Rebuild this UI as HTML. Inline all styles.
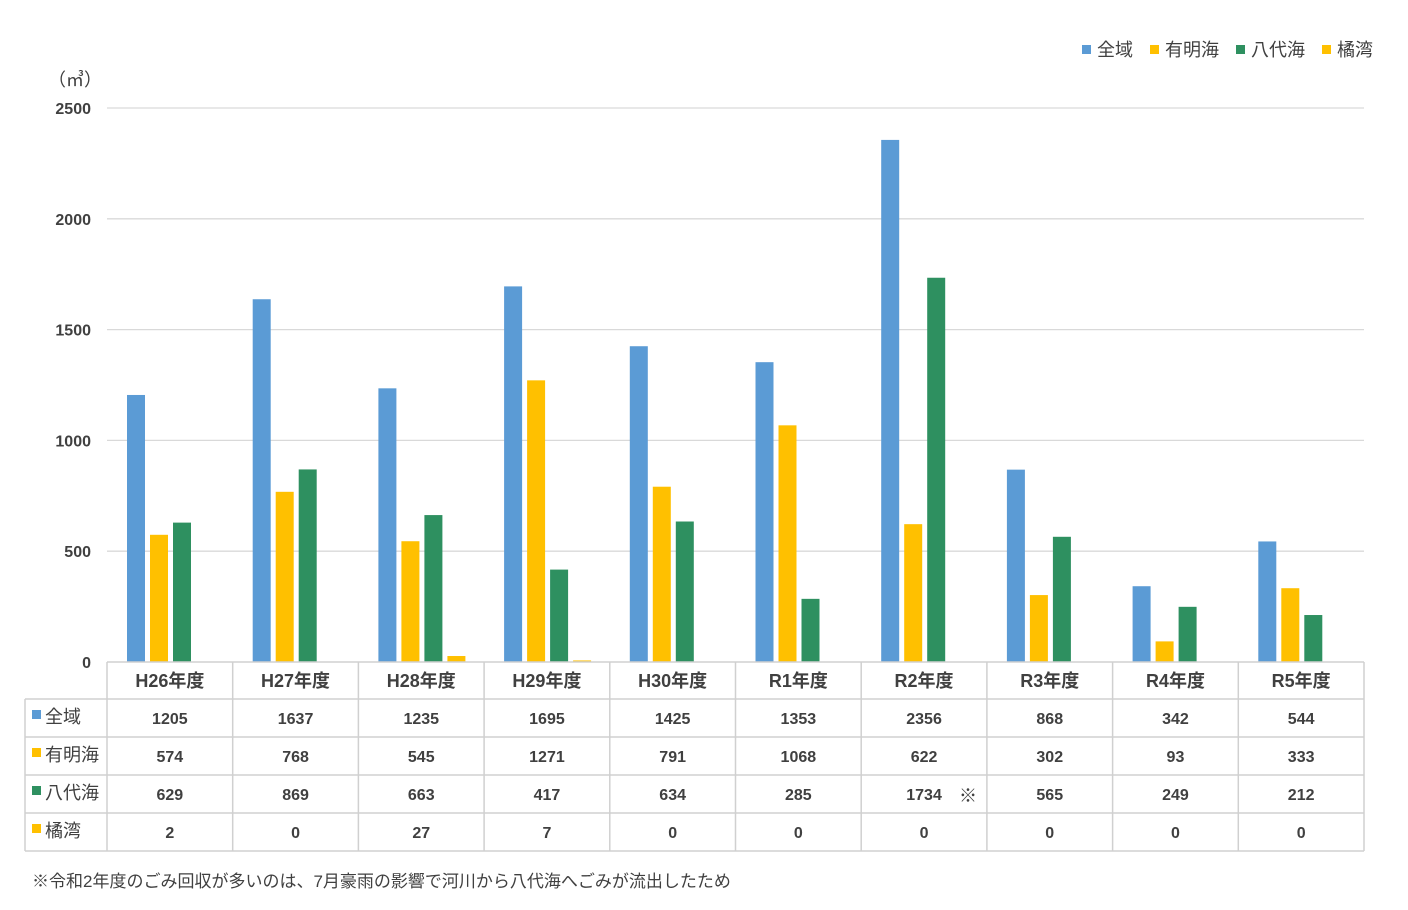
<!DOCTYPE html>
<html><head><meta charset="utf-8"><style>
body{margin:0;background:#fff;}
svg text{font-family:"Liberation Sans","Noto Sans CJK JP",sans-serif;fill:#404040;}
</style></head><body>
<svg id="c" width="1408" height="905"></svg>
<script>
const categories=["H26年度","H27年度","H28年度","H29年度","H30年度","R1年度","R2年度","R3年度","R4年度","R5年度"];
const seriesNames=["全域","有明海","八代海","橘湾"];
const zeniki=[1205,1637,1235,1695,1425,1353,2356,868,342,544];
const ariake=[574,768,545,1271,791,1068,622,302,93,333];
const yatsushiro=[629,869,663,417,634,285,1734,565,249,212];
const tachibana=[2,0,27,7,0,0,0,0,0,0];
const yTicks=[0,500,1000,1500,2000,2500];
const colors=["#5b9bd5","#ffc000","#2e9060","#ffc000"];
const series=[zeniki,ariake,yatsushiro,tachibana];
const NS="http://www.w3.org/2000/svg";
const svg=document.getElementById('c');
const X0=107,X1=1364,Y0=662,Y1=108,YMAX=2500;
const cw=(X1-X0)/categories.length;
const y=v=>Y0-(v/YMAX)*(Y0-Y1);
const xc=i=>X0+i*cw;
function el(t,a,txt){const e=document.createElementNS(NS,t);for(const k in a)e.setAttribute(k,a[k]);if(txt!==undefined)e.textContent=txt;svg.appendChild(e);return e;}
// gridlines and ticks
yTicks.forEach(v=>{
 if(v>0){const g=el('line',{x1:X0,x2:X1,y1:y(v),y2:y(v),stroke:'#d9d9d9','stroke-width':1.3});
 }
 const t=el('text',{x:91,y:y(v)+6,'text-anchor':'end','font-size':16,'font-weight':'bold'},String(v));
 
});
const u=el('text',{x:48,y:86,'font-size':18},'（㎥）');

// bars
series.forEach((s,si)=>{s.forEach((v,i)=>{
 const b=el('rect',{x:xc(i)+20+si*23,y:y(v),width:18,height:Y0-y(v),fill:colors[si]});
 
 
});});
// table
const rows=[662,699,737,775,813,851];
const tc='#d0d0d0';
el('line',{x1:X0,x2:X1,y1:Y0,y2:Y0,stroke:tc,'stroke-width':1.5});
for(let r=1;r<rows.length;r++){el('line',{x1:25,x2:X1,y1:rows[r],y2:rows[r],stroke:tc,'stroke-width':1.5});}
el('line',{x1:25,x2:25,y1:699,y2:851,stroke:tc,'stroke-width':1.5});
for(let i=0;i<=categories.length;i++){el('line',{x1:xc(i),x2:xc(i),y1:Y0,y2:851,stroke:tc,'stroke-width':1.5});}
categories.forEach((c,i)=>{
 const t=el('text',{x:xc(i)+cw/2,y:687,'text-anchor':'middle','font-size':18,'font-weight':'bold'},c);
 
});
series.forEach((s,si)=>{
 const ry=rows[si+1];
 const k=el('rect',{x:32,y:ry+11,width:9,height:9,fill:colors[si]});
 
 const l=el('text',{x:45,y:ry+24,'font-size':18},seriesNames[si]);
 
 s.forEach((v,i)=>{
  const t=el('text',{x:xc(i)+cw/2,y:ry+25,'text-anchor':'middle','font-size':16,'font-weight':'bold'},String(v));
  
 });
});
const m=el('text',{x:968,y:802,'text-anchor':'middle','font-size':18},'※');

// legend
const lx=[1082,1150,1236,1322];
seriesNames.forEach((n,i)=>{
 const r=el('rect',{x:lx[i],y:45,width:9,height:9,fill:colors[i]});
 
 const t=el('text',{x:lx[i]+15,y:56,'font-size':18},n);
 
});
const f=el('text',{x:32,y:887,'font-size':17},'※令和2年度のごみ回収が多いのは、7月豪雨の影響で河川から八代海へごみが流出したため');

</script>
</body></html>
